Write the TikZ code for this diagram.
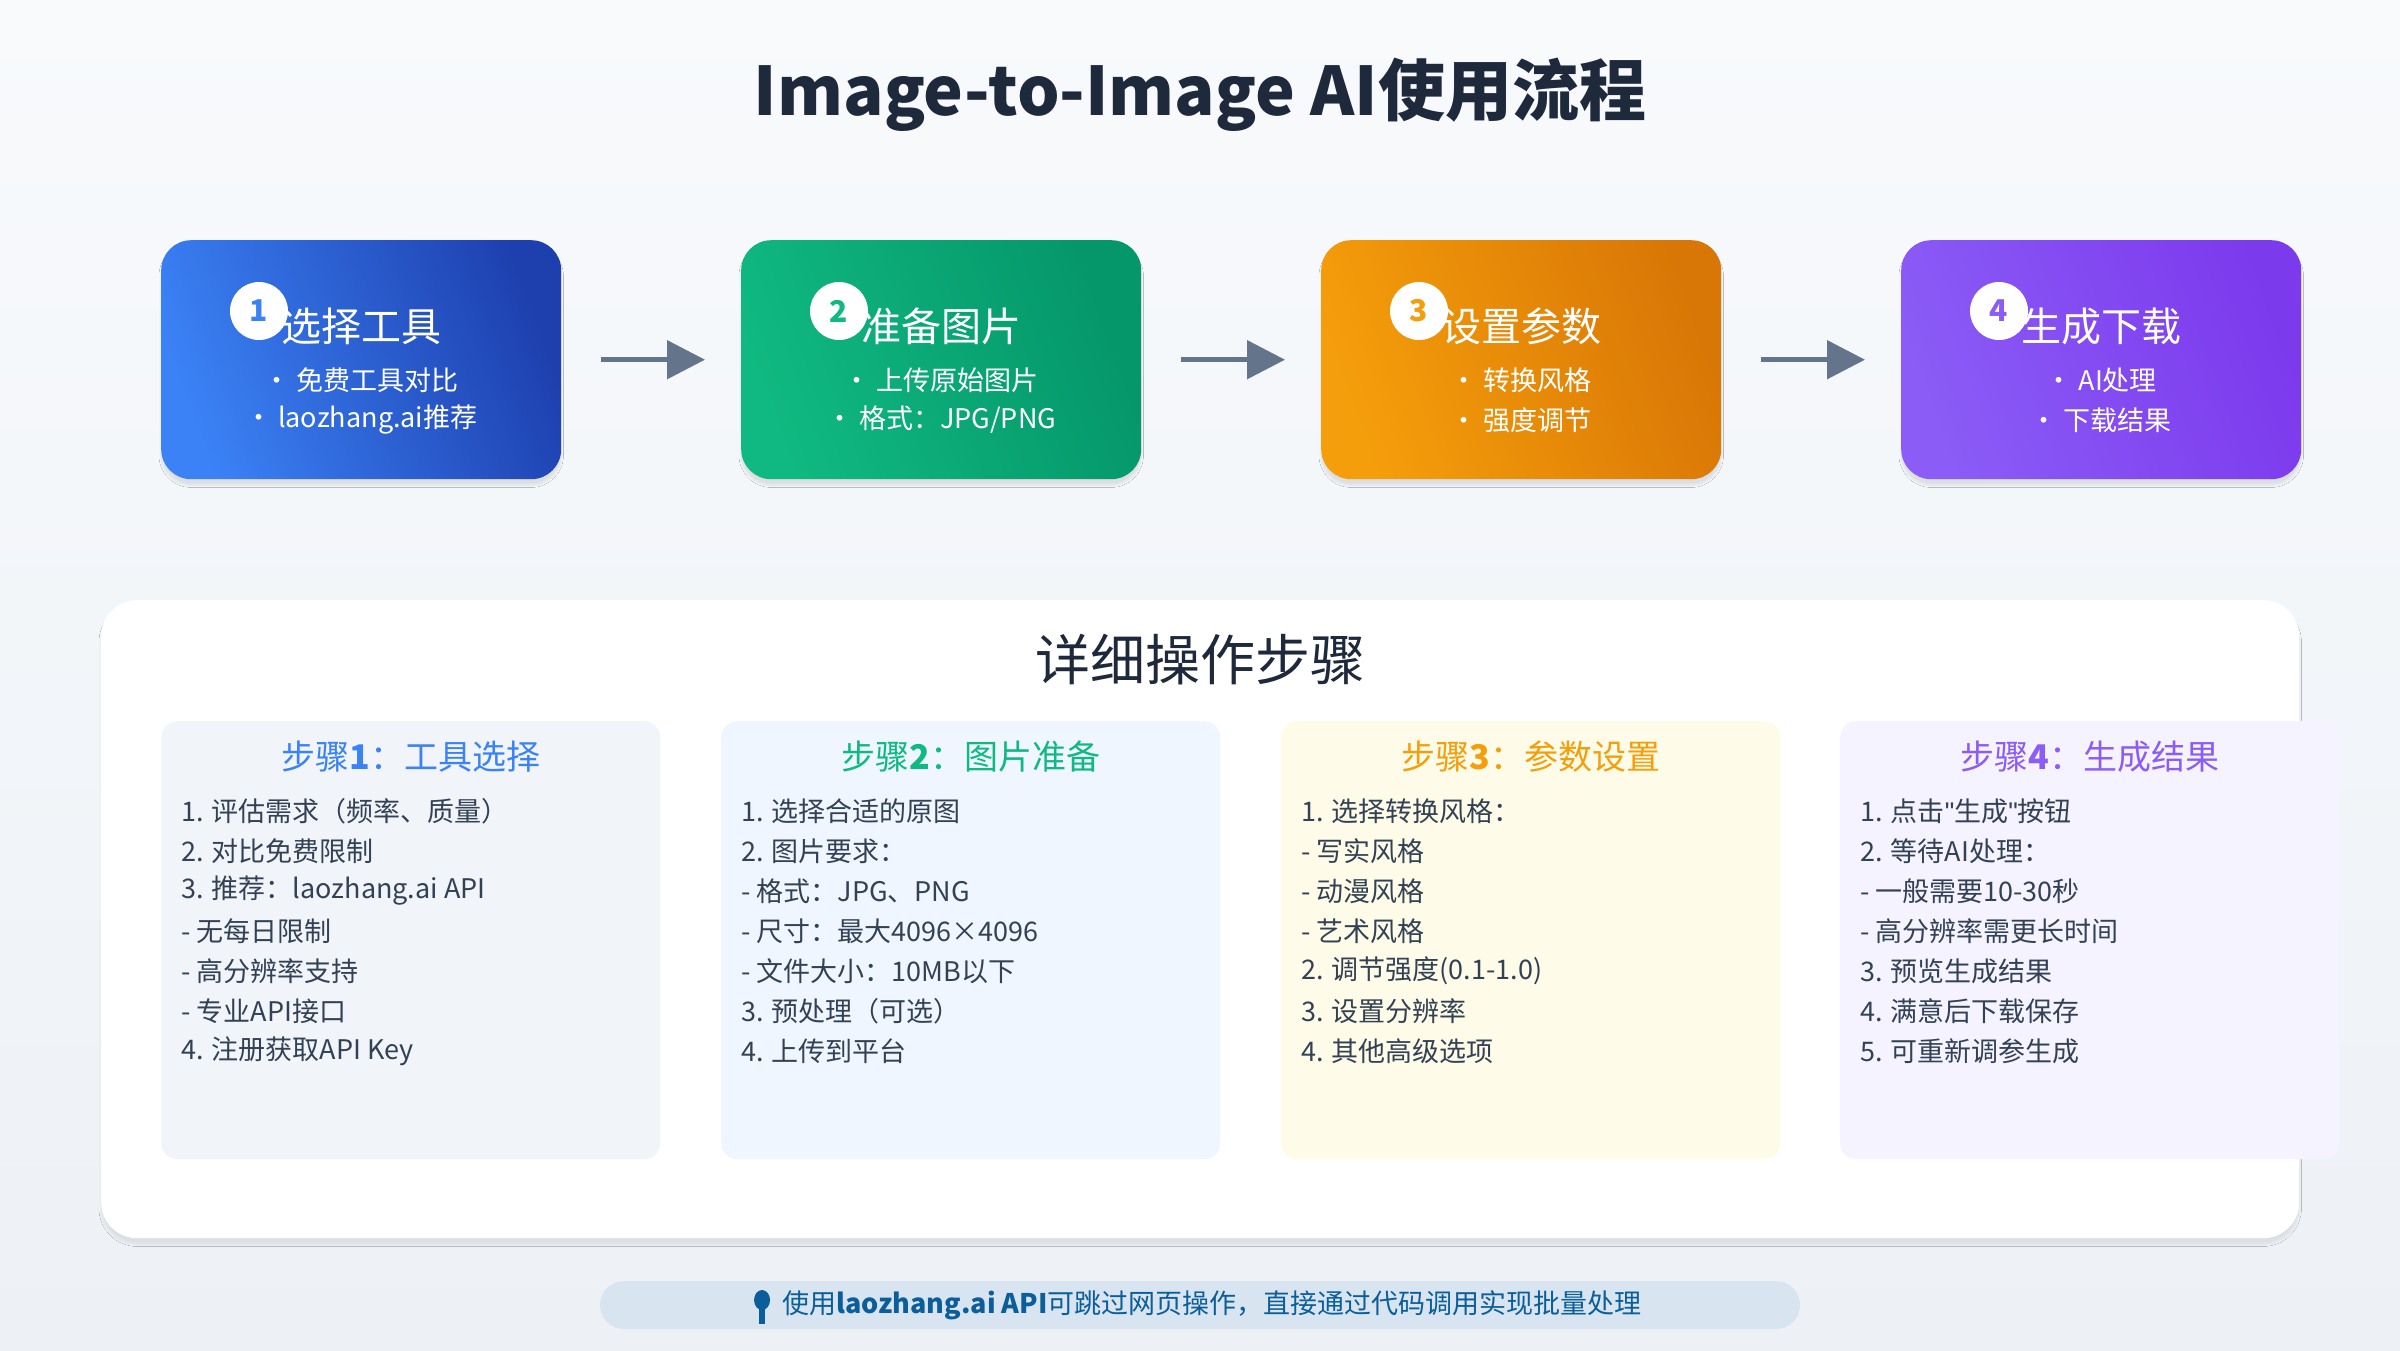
\documentclass[tikz,border=0pt]{standalone}
\usepackage{fontspec}
\setmainfont{Noto Sans CJK SC}
\newfontfamily\lat{Liberation Sans}
\usetikzlibrary{shadows.blur,arrows.meta,shapes.geometric}
\definecolor{bgA}{HTML}{F8FAFC}\definecolor{bgB}{HTML}{EDF1F6}
\definecolor{tit}{HTML}{1E293B}\definecolor{arr}{HTML}{64748B}
\definecolor{txt}{HTML}{334155}
\definecolor{bA}{HTML}{3B82F6}\definecolor{bB}{HTML}{1E40AF}
\definecolor{gA}{HTML}{10B981}\definecolor{gB}{HTML}{059669}
\definecolor{oA}{HTML}{F59E0B}\definecolor{oB}{HTML}{D97706}
\definecolor{pA}{HTML}{8B5CF6}\definecolor{pB}{HTML}{7C3AED}
\definecolor{c1}{HTML}{F1F5F9}\definecolor{c2}{HTML}{EFF6FF}
\definecolor{c3}{HTML}{FEFCE8}\definecolor{c4}{HTML}{F5F3FF}
\definecolor{footbg}{HTML}{D8E5F0}\definecolor{foottx}{HTML}{0B5E99}
\tikzset{
 topbox/.style={rounded corners=30pt,minimum width=400pt,minimum height=239pt,anchor=north west,inner sep=0pt,blur shadow={shadow blur steps=10,shadow xshift=0pt,shadow yshift=-6pt,shadow opacity=10}},
 numc/.style={circle,fill=white,minimum size=58pt,inner sep=0pt,font=\fontsize{30}{30}\selectfont\bfseries},
 boxtitle/.style={text=white,font=\fontsize{40}{40}\selectfont},
 boxline/.style={text=white,font=\fontsize{27}{27}\selectfont},
 flow/.style={draw=arr,line width=5pt,-{Triangle[length=38pt,width=38pt]}},
 card/.style={rounded corners=16pt,minimum width=499pt,minimum height=438pt,anchor=north west,inner sep=0pt},
 chead/.style={font=\fontsize{34}{34}\selectfont},
 cline/.style={text=txt,font=\fontsize{27}{27}\selectfont,anchor=west,inner sep=0pt},
}
\begin{document}
\begin{tikzpicture}[x=1pt,y=-1pt]
\useasboundingbox (0,0) rectangle (2400,1350);
\shade[top color=bgA,bottom color=bgB] (0,0) rectangle (2400,1350);
\node[text=tit,font=\fontsize{67}{67}\selectfont\bfseries] (title) at (1200,95) {Image-to-Image AI使用流程};
\foreach \i/\x/\ca/\cb/\t/\la/\lb in {1/161/bA/bB/选择工具/免费工具对比/laozhang.ai推荐,2/741/gA/gB/准备图片/上传原始图片/{格式：JPG/PNG},3/1321/oA/oB/设置参数/转换风格/强度调节,4/1901/pA/pB/生成下载/AI处理/下载结果}{
 \node[topbox,left color=\cb,right color=\ca,shading angle=-70] (b\i) at (\x,240) {};
 \node[boxtitle] (bt\i) at ([yshift=-86pt]b\i.north) {\t};
 \node[numc,text=\ca] (n\i) at ([xshift=98pt,yshift=-71pt]b\i.north west) {\i};
 \node[boxline] (bl\i) at ([yshift=-140pt]b\i.north) {• \la};
 \node[boxline] (bm\i) at ([yshift=-180pt]b\i.north) {• \lb};
}
\foreach \a/\b in {1/2,2/3,3/4}{\draw[flow] ([xshift=40pt]b\a.east) -- ([xshift=-36pt]b\b.west);}
\node[fill=white,rounded corners=36pt,minimum width=2198pt,minimum height=638pt,anchor=north west,inner sep=0pt,blur shadow={shadow blur steps=10,shadow xshift=0pt,shadow yshift=-6pt,shadow opacity=8}] (panel) at (101,600) {};
\node[text=tit,font=\fontsize{55}{55}\selectfont] (ph) at (1200,660) {详细操作步骤};
\node[card,fill=c1] (k1) at (161,721) {};
\node[card,fill=c2] (k2) at (721,721) {};
\node[card,fill=c3] (k3) at (1281,721) {};
\node[card,fill=c4] (k4) at (1840,721) {};
\node[chead,text=bA] at ([yshift=-36pt]k1.north) {步骤\textbf{1}：工具选择};
\node[chead,text=gA] at ([yshift=-36pt]k2.north) {步骤\textbf{2}：图片准备};
\node[chead,text=oA] at ([yshift=-36pt]k3.north) {步骤\textbf{3}：参数设置};
\node[chead,text=pA] at ([yshift=-36pt]k4.north) {步骤\textbf{4}：生成结果};
\foreach \k/\lst in {1/{1. 评估需求（频率、质量）,2. 对比免费限制,3. 推荐：laozhang.ai API,- 无每日限制,- 高分辨率支持,- 专业API接口,4. 注册获取API Key},
 2/{1. 选择合适的原图,2. 图片要求：,- 格式：JPG、PNG,- 尺寸：最大4096×4096,- 文件大小：10MB以下,3. 预处理（可选）,4. 上传到平台},
 3/{1. 选择转换风格：,- 写实风格,- 动漫风格,- 艺术风格,2. 调节强度(0.1-1.0),3. 设置分辨率,4. 其他高级选项},
 4/{1. 点击{\lat "}生成{\lat "}按钮,2. 等待AI处理：,- 一般需要10-30秒,- 高分辨率需更长时间,3. 预览生成结果,4. 满意后下载保存,5. 可重新调参生成}}{
 \foreach \l [count=\j] in \lst {\node[cline] (t\k\j) at ([xshift=20pt,yshift={-50pt-40pt*\j}]k\k.north west) {\l};}
}
\node[fill=footbg,rounded corners=24pt,minimum width=1200pt,minimum height=48pt,inner sep=0pt] (foot) at (1200,1305) {};
\node[text=foottx,font=\fontsize{27}{27}\selectfont,inner sep=0pt] (ft) at (1212,1305) {使用\textbf{laozhang.ai API}可跳过网页操作，直接通过代码调用实现批量处理};
\node[fill=foottx,ellipse,minimum width=16pt,minimum height=20pt,inner sep=0pt] (bulb) at ([xshift=-20pt,yshift=5pt]ft.west) {};
\fill[foottx] ([xshift=-3pt,yshift=2pt]bulb.south) rectangle ([xshift=3pt,yshift=-14pt]bulb.south);
\end{tikzpicture}
\end{document}
